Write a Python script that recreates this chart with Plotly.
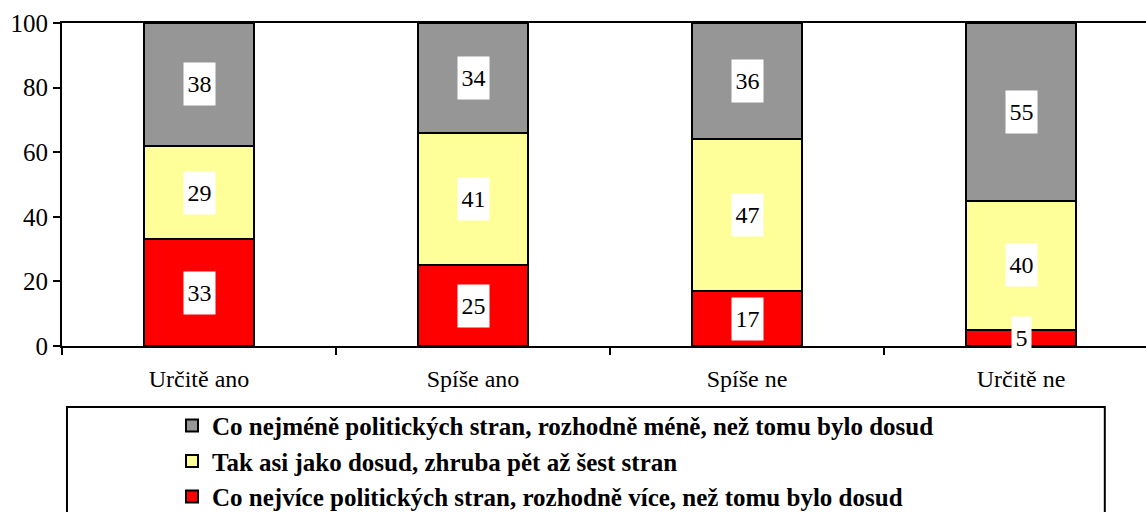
import plotly.graph_objects as go

categories = ["Určitě ano", "Spíše ano", "Spíše ne", "Určitě ne"]
series_names = [
    "Co nejvíce politických stran, rozhodně více, než tomu bylo dosud",
    "Tak asi jako dosud, zhruba pět až šest stran",
    "Co nejméně politických stran, rozhodně méně, než tomu bylo dosud",
]
more_parties = [33, 25, 17, 5]
same_as_now = [29, 41, 47, 40]
fewer_parties = [38, 34, 36, 55]
series_values = [more_parties, same_as_now, fewer_parties]
colors = ["#FF0000", "#FFFF99", "#969696"]
y_ticks = [0, 20, 40, 60, 80, 100]

FONT = "Liberation Serif, Times New Roman, serif"

fig = go.Figure()
for name, vals, col in zip(series_names, series_values, colors):
    fig.add_trace(go.Bar(
        x=categories, y=vals, name=name, width=0.4,
        marker=dict(color=col, line=dict(color="black", width=2)),
        hoverinfo="skip",
    ))

annotations = []
base = [0] * len(categories)
for vals in series_values:
    for i, v in enumerate(vals):
        txt = str(v)
        annotations.append(dict(
            x=categories[i], y=base[i] + v / 2, xref="x", yref="y",
            text=txt, showarrow=False, bgcolor="white",
            font=dict(family=FONT, size=24, color="black"),
            width=12 * len(txt) + 5, height=40,
        ))
        base[i] += v

fig.update_layout(
    width=1146, height=512,
    barmode="stack",
    paper_bgcolor="white", plot_bgcolor="white",
    margin=dict(l=62, r=0, t=23, b=166, autoexpand=False),
    font=dict(family=FONT, size=22, color="black"),
    showlegend=True,
    legend=dict(
        traceorder="reversed",
        x=0.1015, xanchor="left",
        y=-0.176, yanchor="top",
        font=dict(family=FONT, size=25, color="black", weight="bold"),
        bgcolor="rgba(0,0,0,0)", borderwidth=0,
    ),
    annotations=annotations,
    shapes=[dict(
        type="rect", xref="paper", yref="paper",
        x0=0.0046, x1=0.962, y0=-0.189, y1=-0.6,
        line=dict(color="black", width=2), fillcolor="rgba(0,0,0,0)",
        layer="below",
    )],
)
fig.update_xaxes(
    range=[-0.5, 3.456],
    showline=True, linecolor="black", linewidth=2, mirror=True,
    ticks="outside", tickson="boundaries", ticklen=7, tickwidth=2, tickcolor="black",
    showgrid=False, zeroline=False, ticklabelstandoff=10,
    tickfont=dict(family=FONT, size=24),
)
fig.update_yaxes(
    range=[0, 100], tickvals=y_ticks,
    showline=True, linecolor="black", linewidth=2,
    ticks="outside", ticklen=7, tickwidth=2, tickcolor="black",
    showgrid=False, zeroline=False,
    tickfont=dict(family=FONT, size=25),
)

fig.write_html(
    "out.html",
    config={"displayModeBar": False},
    post_script="document.body.style.margin='0';document.body.style.overflow='hidden';",
)
